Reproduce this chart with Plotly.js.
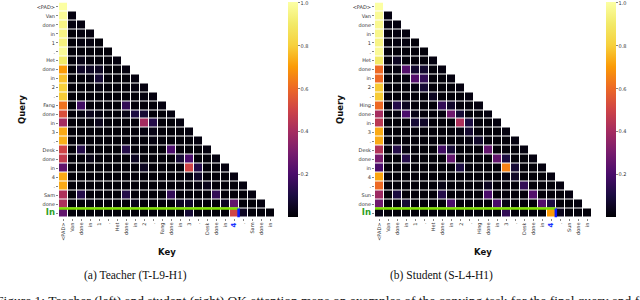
<!DOCTYPE html>
<html>
<head>
<meta charset="utf-8">
<script src="https://cdn.plot.ly/plotly-3.0.1.min.js"></script>
<style>html,body{margin:0;padding:0;background:#fff;}#chart{width:640px;height:300px;}</style>
</head>
<body>
<div id="chart"></div>
<script>
// ---- Labels ----
const teacherKeys = ["<PAD>","Van","done","in","1",".","Het","done","in","2",".","Fang","done","in","3",".","Desk","done","in","4",".","Sam","done","in"];
const teacherQueries = ["<PAD>","Van","done","in","1",".","Het","done","in","2",".","Fang","done","in","3",".","Desk","done","in","4",".","Sam","done","In"];
const studentKeys = ["<PAD>","Van","done","in","1",".","Het","done","in","2",".","Hing","done","in","3",".","Desk","done","in","4",".","Sun","done","in"];
const studentQueries = ["<PAD>","Van","done","in","1",".","Het","done","in","2",".","Hing","done","in","3",".","Desk","done","in","4",".","Sun","done","In"];
const colorbarTicks = [0.2, 0.4, 0.6, 0.8, 1.0];
const highlightKey = 19;   // key "4"
const highlightQuery = 23; // query "In"

// ---- Teacher attention rows (lower triangle) ----
const teacherAttn = [
  [1.00],
  [0.98,0.02],
  [0.95,0.02,0.02],
  [0.95,0.01,0.02,0.02],
  [0.94,0.01,0.02,0.02,0.01],
  [0.98,0.01,0.01,0.01,0.01,0.01],
  [0.90,0.01,0.03,0.01,0.01,0.01,0.02],
  [0.70,0.01,0.06,0.05,0.05,0.01,0.01,0.02],
  [0.77,0.01,0.01,0.02,0.08,0.01,0.01,0.01,0.02],
  [0.80,0.01,0.01,0.01,0.02,0.01,0.01,0.01,0.02,0.02],
  [0.79,0.01,0.01,0.01,0.01,0.01,0.01,0.01,0.01,0.02,0.02],
  [0.62,0.01,0.18,0.01,0.01,0.01,0.01,0.15,0.01,0.01,0.01,0.02],
  [0.53,0.01,0.02,0.04,0.02,0.01,0.01,0.03,0.10,0.08,0.01,0.01,0.02],
  [0.40,0.01,0.01,0.01,0.04,0.01,0.01,0.01,0.01,0.40,0.12,0.01,0.01,0.02],
  [0.73,0.01,0.01,0.01,0.01,0.01,0.01,0.01,0.01,0.02,0.03,0.01,0.01,0.01,0.02],
  [0.74,0.01,0.01,0.01,0.01,0.01,0.01,0.01,0.01,0.01,0.02,0.01,0.01,0.01,0.01,0.02],
  [0.50,0.01,0.12,0.01,0.01,0.01,0.01,0.12,0.01,0.01,0.01,0.01,0.20,0.01,0.01,0.01,0.02],
  [0.47,0.01,0.01,0.03,0.01,0.01,0.01,0.01,0.05,0.01,0.01,0.01,0.01,0.08,0.20,0.01,0.01,0.02],
  [0.25,0.01,0.01,0.01,0.01,0.01,0.01,0.01,0.01,0.05,0.01,0.01,0.01,0.01,0.50,0.12,0.01,0.01,0.02],
  [0.73,0.01,0.01,0.01,0.01,0.01,0.01,0.01,0.01,0.01,0.01,0.01,0.01,0.01,0.02,0.06,0.01,0.01,0.01,0.02],
  [0.73,0.01,0.01,0.01,0.01,0.01,0.01,0.01,0.01,0.01,0.01,0.01,0.01,0.01,0.01,0.02,0.04,0.01,0.01,0.01,0.02],
  [0.42,0.01,0.12,0.01,0.01,0.01,0.01,0.12,0.01,0.01,0.01,0.01,0.15,0.01,0.01,0.01,0.01,0.15,0.01,0.01,0.01,0.02],
  [0.42,0.01,0.01,0.02,0.01,0.01,0.01,0.01,0.04,0.01,0.01,0.01,0.01,0.05,0.06,0.01,0.01,0.01,0.05,0.25,0.01,0.01,0.02],
  [0.25,0.01,0.01,0.01,0.01,0.01,0.01,0.01,0.01,0.01,0.01,0.01,0.01,0.01,0.08,0.01,0.01,0.01,0.01,0.50,0.05,0.01,0.01,0.01]
];

// ---- Student attention rows (lower triangle) ----
const studentAttn = [
  [1.00],
  [0.98,0.02],
  [0.97,0.02,0.02],
  [0.96,0.01,0.02,0.02],
  [0.95,0.01,0.02,0.02,0.01],
  [0.98,0.01,0.01,0.01,0.01,0.01],
  [0.90,0.01,0.05,0.01,0.01,0.01,0.02],
  [0.60,0.01,0.02,0.22,0.07,0.07,0.01,0.02],
  [0.60,0.01,0.01,0.02,0.22,0.15,0.01,0.01,0.02],
  [0.79,0.01,0.01,0.01,0.02,0.08,0.01,0.01,0.01,0.02],
  [0.79,0.01,0.01,0.01,0.01,0.01,0.05,0.01,0.01,0.01,0.02],
  [0.60,0.01,0.12,0.05,0.01,0.01,0.01,0.15,0.06,0.01,0.01,0.02],
  [0.40,0.01,0.02,0.20,0.03,0.01,0.01,0.02,0.28,0.08,0.01,0.01,0.02],
  [0.45,0.01,0.01,0.01,0.08,0.06,0.01,0.01,0.01,0.42,0.10,0.01,0.01,0.02],
  [0.73,0.01,0.01,0.01,0.01,0.01,0.01,0.01,0.01,0.02,0.07,0.01,0.01,0.01,0.02],
  [0.73,0.01,0.01,0.01,0.01,0.01,0.01,0.01,0.01,0.01,0.02,0.06,0.01,0.01,0.01,0.02],
  [0.43,0.01,0.12,0.02,0.01,0.01,0.01,0.18,0.08,0.01,0.01,0.01,0.25,0.01,0.01,0.01,0.02],
  [0.30,0.01,0.01,0.12,0.01,0.01,0.01,0.01,0.25,0.01,0.01,0.01,0.01,0.25,0.10,0.01,0.01,0.02],
  [0.20,0.01,0.01,0.01,0.01,0.01,0.01,0.01,0.01,0.10,0.01,0.01,0.01,0.01,0.65,0.08,0.01,0.01,0.02],
  [0.72,0.01,0.01,0.01,0.01,0.01,0.01,0.01,0.01,0.01,0.01,0.01,0.01,0.01,0.02,0.06,0.01,0.01,0.01,0.02],
  [0.60,0.01,0.01,0.01,0.01,0.01,0.01,0.03,0.01,0.01,0.01,0.01,0.05,0.01,0.01,0.01,0.15,0.01,0.01,0.01,0.02],
  [0.38,0.01,0.10,0.01,0.01,0.01,0.01,0.12,0.01,0.01,0.01,0.01,0.20,0.01,0.01,0.01,0.01,0.22,0.01,0.01,0.01,0.02],
  [0.28,0.01,0.01,0.08,0.01,0.01,0.01,0.01,0.20,0.01,0.01,0.01,0.01,0.20,0.03,0.01,0.01,0.01,0.22,0.10,0.01,0.01,0.02],
  [0.03,0.01,0.01,0.01,0.01,0.01,0.01,0.01,0.01,0.01,0.01,0.01,0.01,0.01,0.15,0.01,0.01,0.01,0.01,0.70,0.04,0.01,0.01,0.01]
];

// inferno colormap
const inferno = [
  [0.0,"#000004"],[0.1,"#1b0c41"],[0.2,"#4a0c6b"],[0.3,"#781c6d"],[0.4,"#a52c60"],
  [0.5,"#cf4446"],[0.6,"#ed6925"],[0.7,"#fb9b06"],[0.8,"#f7d13d"],[0.9,"#f2ea69"],[1.0,"#fcffa4"]
];

const N = teacherKeys.length;
function toMatrix(rows){
  return rows.map(r => { const out = []; for (let j=0;j<N;j++) out.push(j < r.length ? r[j] : null); return out; });
}
const idx = teacherKeys.map((_, i) => i);

function fmtTicks(labels, isKey){
  return labels.map((t, i) => {
    const s = t.replace(/</g,"&lt;").replace(/>/g,"&gt;");
    if (isKey && i === highlightKey) return '<span style="color:#1a35ff;font-size:7px"><b>' + s + '</b></span>';
    if (!isKey && i === highlightQuery) return '<span style="color:#2e9e1e;font-size:8.5px"><b>' + s + '</b></span>';
    return s;
  });
}

const PW = 640, PH = 300;
const plotTop = 2.5, plotBot = 217.5;
const ydom = [(PH-plotBot)/PH, (PH-plotTop)/PH];
const zMax = 1.002;

function cb(xpx){
  return {x: xpx/PW, xanchor:'left', thickness:10, thicknessmode:'pixels', len:(plotBot-plotTop)/PH, lenmode:'fraction',
          y: ydom[0], yanchor:'bottom', ypad:0, xpad:0, outlinewidth:0, tickvals: colorbarTicks,
          ticktext: colorbarTicks.map(v=>v.toFixed(1)), ticks:'outside', ticklen:2, tickwidth:0.6, tickcolor:'#333',
          ticklabeloverflow:'allow',
          tickfont:{family:'DejaVu Sans', size:5, color:'#333'}};
}

const traces = [
  {type:'heatmap', z: toMatrix(teacherAttn), x: idx, y: idx, xaxis:'x', yaxis:'y', colorscale: inferno,
   zmin:0, zmax:zMax, xgap:1, ygap:1, colorbar: cb(288), hoverongaps:false},
  {type:'heatmap', z: toMatrix(studentAttn), x: idx, y: idx, xaxis:'x2', yaxis:'y2', colorscale: inferno,
   zmin:0, zmax:zMax, xgap:1, ygap:1, colorbar: cb(606), hoverongaps:false}
];

function xax(d0, d1, labels, anchor){
  return {domain:[d0/PW, d1/PW], range:[-0.5, N-0.5], tickvals: idx, ticktext: fmtTicks(labels, true), tickangle:-90,
          tickfont:{family:'DejaVu Sans', size:5, color:'#333'}, ticks:'outside', ticklen:2, tickwidth:0.6, tickcolor:'#333',
          showgrid:false, zeroline:false, showline:false, anchor: anchor, automargin:false, fixedrange:true};
}
function yax(labels, anchor){
  return {domain: ydom, range:[N-0.5, -0.5], tickvals: idx, ticktext: fmtTicks(labels, false),
          tickfont:{family:'DejaVu Sans', size:5, color:'#333'}, ticks:'outside', ticklen:2, tickwidth:0.6, tickcolor:'#333',
          showgrid:false, zeroline:false, showline:false, anchor: anchor, automargin:false, fixedrange:true};
}

const shapes = [];
[['x','y'],['x2','y2']].forEach(([xr, yr]) => {
  shapes.push({type:'line', xref:xr, yref:yr, x0:-0.5, x1:highlightKey+0.5, y0:highlightQuery-0.5, y1:highlightQuery-0.5,
               line:{color:'#7fe000', width:2.5}});
  shapes.push({type:'line', xref:xr, yref:yr, x0:highlightKey+0.5, x1:highlightKey+0.5, y0:highlightQuery-0.5, y1:highlightQuery+0.5,
               line:{color:'#0a1aff', width:2.5}});
});

function ann(text, xpx, ypx, opts){
  return Object.assign({text:text, xref:'paper', yref:'paper', x:xpx/PW, y:(PH-ypx)/PH, showarrow:false,
                        xanchor:'center', yanchor:'middle'}, opts||{});
}
const titleFont = {family:'DejaVu Sans', size:8.5, color:'#111'};
const capFont = {family:'Liberation Serif', size:11.5, color:'#111'};
const annotations = [
  ann('<b>Query</b>', 22, 110, {textangle:-90, font:titleFont}),
  ann('<b>Query</b>', 340, 110, {textangle:-90, font:titleFont}),
  ann('<b>Key</b>', 167, 252, {font:titleFont}),
  ann('<b>Key</b>', 483, 252, {font:titleFont}),
  ann('(a) Teacher (T-L9-H1)', 135, 275, {font:capFont}),
  ann('(b) Student (S-L4-H1)', 441, 275, {font:capFont}),
  ann('Figure 1: Teacher (left) and student (right) QK attention maps on examples of the copying task for the final query and for the di',
      -6, 300, {xanchor:'left', font:{family:'Liberation Serif', size:13.5, color:'#111'}})
];

const layout = {
  width: PW, height: PH, margin:{l:0, r:0, t:0, b:0}, paper_bgcolor:'#fff', plot_bgcolor:'#fff',
  showlegend:false,
  xaxis: xax(59, 274.5, teacherKeys, 'y'),
  yaxis: yax(teacherQueries, 'x'),
  xaxis2: xax(375, 592, studentKeys, 'y2'),
  yaxis2: yax(studentQueries, 'x2'),
  shapes: shapes, annotations: annotations
};

Plotly.newPlot('chart', traces, layout, {displayModeBar:false, staticPlot:true});
</script>
</body>
</html>
